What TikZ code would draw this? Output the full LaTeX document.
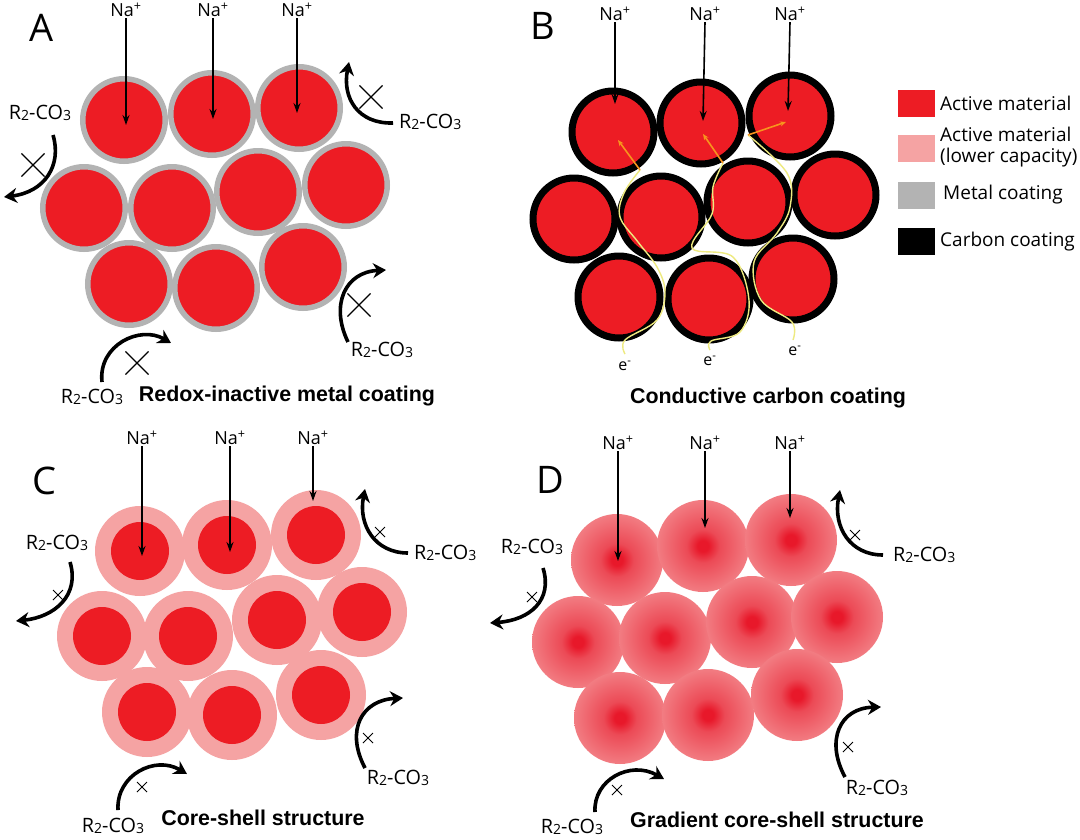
\documentclass[tikz,border=0pt]{standalone}
\usepackage{fontspec}
\setmainfont{Open Sans}
\newfontfamily\tfont{Liberation Sans}
\usetikzlibrary{arrows.meta,shapes.misc}
\definecolor{dred}{HTML}{ED1C24}
\definecolor{shell}{HTML}{F5A3A3}
\definecolor{mgray}{HTML}{B3B3B3}
\definecolor{yel}{HTML}{EEEA80}
\definecolor{org}{HTML}{F7941D}
\definecolor{gA}{HTML}{E8182A}
\definecolor{gB}{HTML}{EC4A56}
\definecolor{gC}{HTML}{F27C82}
\pgfdeclareradialshading{gradcs}{\pgfpoint{0bp}{0bp}}{color(0bp)=(gA); color(3bp)=(gA); color(9bp)=(gB); color(25bp)=(gC); color(50bp)=(gC)}
\newcommand\lsub[1]{\raisebox{-1.5pt}{\fontsize{14}{14}\selectfont #1}}
\newcommand\RCO{R\lsub{2}-CO\lsub{3}}
\newcommand\NaP{Na\textsuperscript{+}}
\begin{document}
\begin{tikzpicture}[x=1pt,y=-1pt,
  every node/.style={font=\fontsize{18}{20}\selectfont},
  pa/.style={circle,fill=dred,draw=mgray,line width=5.5pt,minimum size=82.5pt,inner sep=0pt},
  pb/.style={circle,fill=dred,draw=black,line width=7pt,minimum size=82pt,inner sep=0pt},
  pc/.style={circle,fill=shell,minimum size=90pt,inner sep=0pt,path picture={\fill[dred] (path picture bounding box.center) circle[radius=29pt];}},
  pd/.style={circle,shade,shading=gradcs,minimum size=92pt,inner sep=0pt},
  na/.style={inner sep=1pt},
  rco/.style={font=\fontsize{19.8}{21}\selectfont},
  naarrow/.style={line width=1.6pt,-{Stealth[length=10pt,width=7pt]}},
  rarrow/.style={line width=3.6pt,-{Stealth[length=13pt,width=15pt]}},
  bigx/.style={cross out,draw,line width=1.1pt,minimum size=22pt,inner sep=0pt},
  smallx/.style={cross out,draw,line width=1pt,minimum size=9pt,inner sep=0pt},
  ttl/.style={font=\tfont\bfseries\fontsize{21.4}{23}\selectfont},
  letter/.style={font=\fontsize{38}{40}\selectfont},
  lgbox/.style={minimum width=37pt,minimum height=27pt,inner sep=0pt},
  lgtext/.style={anchor=west,align=left,font=\fontsize{19}{21}\selectfont,inner sep=0pt},
  yline/.style={draw=yel,line width=1.4pt},
  oline/.style={draw=org,line width=1.6pt,-{Stealth[length=6pt,width=5pt]}},
  elab/.style={font=\fontsize{16}{17}\selectfont,inner sep=1pt}
]
\useasboundingbox (0,0) rectangle (1080,839);
\fill[white] (0,0) rectangle (1080,839);

% ================= Panel A =================
\node[letter] (LA) at (42,28) {A};
\node[pa] (a1) at (124,120) {};
\node[pa] (a2) at (212,114) {};
\node[pa] (a3) at (299,108) {};
\node[pa] (a4) at (84,208) {};
\node[pa] (a5) at (172,208) {};
\node[pa] (a6) at (258,192) {};
\node[pa] (a7) at (346,185) {};
\node[pa] (a8) at (129,284) {};
\node[pa] (a9) at (216,288) {};
\node[pa] (a10) at (303,267) {};
\node[na] (naA1) at (126,10) {\NaP};
\node[na] (naA2) at (213,10) {\NaP};
\node[na] (naA3) at (297,10) {\NaP};
\coordinate (eA1) at (126,125);
\coordinate (eA2) at (213,119);
\coordinate (eA3) at (297,113);
\draw[naarrow] (naA1.south) -- (eA1);
\draw[naarrow] (naA2.south) -- (eA2);
\draw[naarrow] (naA3.south) -- (eA3);
% R2-CO3 arrows A
\node[rco,anchor=west,inner sep=0pt] (rA1) at (399,122) {\RCO};
\node[rco] (rA2) at (40,113) {\RCO};
\node[rco] (rA3) at (382,350) {\RCO};
\node[rco] (rA4) at (92,397) {\RCO};
\coordinate (sA1) at (393,123); \coordinate (tA1) at (349,62);
\coordinate (sA2) at (53,135); \coordinate (tA2) at (4,197);
\coordinate (sA3) at (348,342); \coordinate (tA3) at (386,270);
\coordinate (sA4) at (102,382); \coordinate (tA4) at (171,343);
\draw[rarrow] (sA1) .. controls (358,124) and (342,98) .. (tA1);
\draw[rarrow] (sA2) .. controls (62,165) and (45,192) .. (tA2);
\draw[rarrow] (sA3) .. controls (330,305) and (345,272) .. (tA3);
\draw[rarrow] (sA4) .. controls (98,345) and (140,325) .. (tA4);
\node[bigx] (xA1) at (371,97) {};
\node[bigx] (xA2) at (33,165) {};
\node[bigx] (xA3) at (359,305) {};
\node[bigx] (xA4) at (137,363) {};
\node[ttl] (tA) at (287,396) {Redox-inactive metal coating};

% ================= Panel B =================
\node[letter] (LB) at (543,26) {B};
\node[pb] (b1) at (613,132) {};
\node[pb] (b2) at (701,123) {};
\node[pb] (b3) at (790,116) {};
\node[pb] (b4) at (574,219) {};
\node[pb] (b5) at (661,217) {};
\node[pb] (b6) at (748,202) {};
\node[pb] (b7) at (835,195) {};
\node[pb] (b8) at (619,297) {};
\node[pb] (b9) at (709,299) {};
\node[pb] (b10) at (793,279) {};
\node[elab] (e1) at (625,366) {e\textsuperscript{-}};
\node[elab] (e2) at (710,361) {e\textsuperscript{-}};
\node[elab] (e3) at (795,351) {e\textsuperscript{-}};
\draw[yline] plot[smooth,tension=0.6] coordinates {(625,354) (625,340) (657,320) (665,292) (657,267) (638,242) (620,217) (624,193) (640,170)};
\draw[oline] (640,170) -- (618,140);
\draw[yline] plot[smooth,tension=0.6] coordinates {(710,350) (711,341) (740,332) (749,300) (733,257) (692,248) (712,214) (713,187) (723,163)};
\draw[oline] (723,163) -- (703,134);
\draw[yline] plot[smooth,tension=0.6] coordinates {(793,340) (792,322) (761,300) (754,262) (777,233) (790,207) (787,173) (748,135)};
\draw[oline] (748,135) -- (786,122);
\node[na] (naB1) at (615,14) {\NaP};
\node[na] (naB2) at (705,14) {\NaP};
\node[na] (naB3) at (790,14) {\NaP};
\coordinate (eB1) at (615,104);
\coordinate (eB2) at (703,121);
\coordinate (eB3) at (788,111);
\draw[naarrow] (naB1.south) -- (eB1);
\draw[naarrow] (naB2.south) -- (eB2);
\draw[naarrow] (naB3.south) -- (eB3);
\node[ttl] (tB) at (768,398) {Conductive carbon coating};

% ================= Legend =================
\node[lgbox,fill=dred] (lg1) at (916,103) {};
\node[lgbox,fill=shell] (lg2) at (916,148) {};
\node[lgbox,fill=mgray] (lg3) at (916,195) {};
\node[lgbox,fill=black] (lg4) at (916,241) {};
\node[lgtext] (lt1) at (940,103) {Active material};
\node[lgtext] (lt2) at (940,147) {Active material\\(lower capacity)};
\node[lgtext] (lt3) at (943,195) {Metal coating};
\node[lgtext] (lt4) at (940,242) {Carbon coating};

% ================= Panel C =================
\node[letter] (LC) at (44,481) {C};
\node[pc] (c1) at (140,551) {};
\node[pc] (c2) at (227,545) {};
\node[pc] (c3) at (316,535) {};
\node[pc] (c4) at (102,636) {};
\node[pc] (c5) at (188,636) {};
\node[pc] (c6) at (277,620) {};
\node[pc] (c7) at (362,612) {};
\node[pc] (c8) at (147,712) {};
\node[pc] (c9) at (232,715) {};
\node[pc] (c10) at (321,695) {};
\node[na] (naC1) at (142,438) {\NaP};
\node[na] (naC2) at (230,438) {\NaP};
\node[na] (naC3) at (313,438) {\NaP};
\coordinate (eC1) at (142,556);
\coordinate (eC2) at (230,552);
\coordinate (eC3) at (313,501);
\draw[naarrow] (naC1.south) -- (eC1);
\draw[naarrow] (naC2.south) -- (eC2);
\draw[naarrow] (naC3.south) -- (eC3);
\node[rco,anchor=west,inner sep=0pt] (rC1) at (414,553) {\RCO};
\node[rco] (rC2) at (57,543) {\RCO};
\node[rco] (rC3) at (398,778) {\RCO};
\node[rco] (rC4) at (113,826) {\RCO};
\coordinate (sC1) at (408,553); \coordinate (tC1) at (365,489);
\coordinate (sC2) at (70,562); \coordinate (tC2) at (16,621);
\coordinate (sC3) at (365,768); \coordinate (tC3) at (403,698);
\coordinate (sC4) at (118,810); \coordinate (tC4) at (187,774);
\draw[rarrow] (sC1) .. controls (375,553) and (358,525) .. (tC1);
\draw[rarrow] (sC2) .. controls (80,595) and (55,617) .. (tC2);
\draw[rarrow] (sC3) .. controls (345,730) and (362,700) .. (tC3);
\draw[rarrow] (sC4) .. controls (116,775) and (155,755) .. (tC4);
\node[smallx] (xC1) at (380,532) {};
\node[smallx] (xC2) at (58,595) {};
\node[smallx] (xC3) at (368,738) {};
\node[smallx] (xC4) at (142,787) {};
\node[ttl] (tC) at (263,818) {Core-shell structure};

% ================= Panel D =================
\node[letter] (LD) at (550,480) {D};
\node[pd] (d1) at (617,560) {};
\node[pd] (d2) at (703,546) {};
\node[pd] (d3) at (791,540) {};
\node[pd] (d4) at (578,642) {};
\node[pd] (d5) at (665,638) {};
\node[pd] (d6) at (752,622) {};
\node[pd] (d7) at (837,617) {};
\node[pd] (d8) at (620,718) {};
\node[pd] (d9) at (708,715) {};
\node[pd] (d10) at (797,695) {};
\node[na] (naD1) at (618,443) {\NaP};
\node[na] (naD2) at (705,443) {\NaP};
\node[na] (naD3) at (790,443) {\NaP};
\coordinate (eD1) at (618,561);
\coordinate (eD2) at (705,528);
\coordinate (eD3) at (790,518);
\draw[naarrow] (naD1.south) -- (eD1);
\draw[naarrow] (naD2.south) -- (eD2);
\draw[naarrow] (naD3.south) -- (eD3);
\node[rco,anchor=west,inner sep=0pt] (rD1) at (893,555) {\RCO};
\node[rco] (rD2) at (532,547) {\RCO};
\node[rco] (rD3) at (877,788) {\RCO};
\node[rco] (rD4) at (572,827) {\RCO};
\coordinate (sD1) at (883,555); \coordinate (tD1) at (840,490);
\coordinate (sD2) at (543,568); \coordinate (tD2) at (490,623);
\coordinate (sD3) at (845,777); \coordinate (tD3) at (881,707);
\coordinate (sD4) at (595,812); \coordinate (tD4) at (664,779);
\draw[rarrow] (sD1) .. controls (850,555) and (833,527) .. (tD1);
\draw[rarrow] (sD2) .. controls (553,600) and (530,620) .. (tD2);
\draw[rarrow] (sD3) .. controls (825,740) and (840,708) .. (tD3);
\draw[rarrow] (sD4) .. controls (593,780) and (630,760) .. (tD4);
\node[smallx] (xD1) at (855,535) {};
\node[smallx] (xD2) at (532,597) {};
\node[smallx] (xD3) at (848,747) {};
\node[smallx] (xD4) at (617,790) {};
\node[ttl] (tD) at (777,820) {Gradient core-shell structure};
\end{tikzpicture}
\end{document}
